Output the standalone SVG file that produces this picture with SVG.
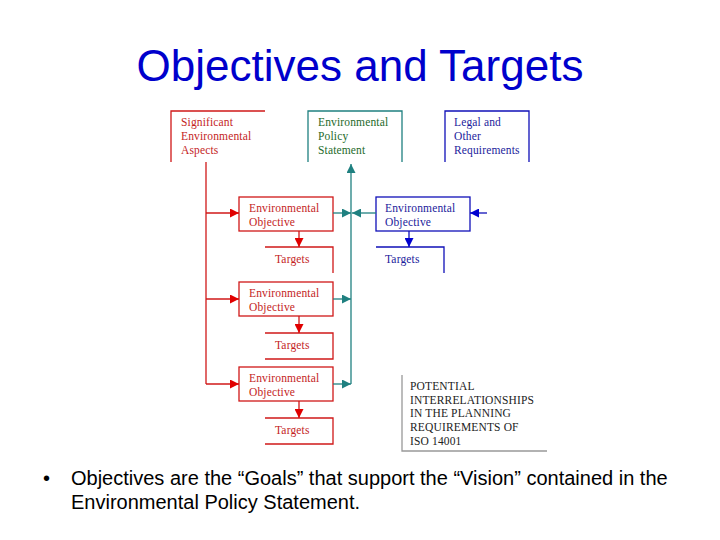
<svg xmlns="http://www.w3.org/2000/svg" width="720" height="540" viewBox="0 0 720 540">
<defs>
<style>
.t{font-family:"Liberation Serif","Times New Roman",serif;font-size:11.5px;letter-spacing:0.15px}
.red{fill:#c41e1e}
.blu{fill:#1c1c9c}
.grn{fill:#1e6a2a}
.blk{fill:#222}
.lr{stroke:#d01818;stroke-width:1.3;fill:none}
.lb{stroke:#1010b8;stroke-width:1.3;fill:none}
.lg{stroke:#1f8080;stroke-width:1.3;fill:none}
.lk{stroke:#999;stroke-width:1.3;fill:none}
.b{font-family:"Liberation Sans",Arial,sans-serif;font-size:20px;fill:#000}
</style>
<marker id="ar" viewBox="0 0 10 10" refX="10" refY="5" markerWidth="9" markerHeight="9" markerUnits="userSpaceOnUse" orient="auto"><path d="M0,0L10,5L0,10z" fill="#e00000"/></marker>
<marker id="ab" viewBox="0 0 10 10" refX="10" refY="5" markerWidth="9" markerHeight="9" markerUnits="userSpaceOnUse" orient="auto"><path d="M0,0L10,5L0,10z" fill="#0000d0"/></marker>
<marker id="ag" viewBox="0 0 10 10" refX="10" refY="5" markerWidth="9" markerHeight="9" markerUnits="userSpaceOnUse" orient="auto"><path d="M0,0L10,5L0,10z" fill="#1f8080"/></marker>
</defs>
<rect width="720" height="540" fill="#fff"/>
<text x="360" y="81" text-anchor="middle" font-family="Liberation Sans, Arial, sans-serif" font-size="44" fill="#0000cc">Objectives and Targets</text>

<g id="significant">
<path class="lr" d="M171,162V111H265"/>
<text class="t red" x="181" y="126">Significant</text>
<text class="t red" x="181" y="140">Environmental</text>
<text class="t red" x="181" y="154">Aspects</text>
</g>
<g id="policy">
<path class="lg" d="M308,162V111H402V162"/>
<text class="t grn" x="318" y="126">Environmental</text>
<text class="t grn" x="318" y="140">Policy</text>
<text class="t grn" x="318" y="154">Statement</text>
</g>
<g id="legal">
<path class="lb" d="M445,162V111H529V162"/>
<text class="t blu" x="454" y="126">Legal and</text>
<text class="t blu" x="454" y="140">Other</text>
<text class="t blu" x="454" y="154">Requirements</text>
</g>

<g id="obj1">
<rect class="lr" x="239" y="197" width="94" height="34"/>
<text class="t red" x="249" y="212">Environmental</text>
<text class="t red" x="249" y="226">Objective</text>
</g>
<g id="tgt1">
<path class="lr" d="M265,247H333V273"/>
<text class="t red" x="275" y="263">Targets</text>
</g>
<g id="obj2">
<rect class="lr" x="239" y="282" width="94" height="34"/>
<text class="t red" x="249" y="297">Environmental</text>
<text class="t red" x="249" y="311">Objective</text>
</g>
<g id="tgt2">
<path class="lr" d="M265,333H333V359H265"/>
<text class="t red" x="275" y="349">Targets</text>
</g>
<g id="obj3">
<rect class="lr" x="239" y="367" width="94" height="34"/>
<text class="t red" x="249" y="382">Environmental</text>
<text class="t red" x="249" y="396">Objective</text>
</g>
<g id="tgt3">
<path class="lr" d="M265,418H333V444H265"/>
<text class="t red" x="275" y="434">Targets</text>
</g>
<g id="objb">
<rect class="lb" x="376" y="197" width="94" height="34"/>
<text class="t blu" x="385" y="212">Environmental</text>
<text class="t blu" x="385" y="226">Objective</text>
</g>
<g id="tgtb">
<path class="lb" d="M376,247H444V273"/>
<text class="t blu" x="385" y="263">Targets</text>
</g>
<g id="note">
<path class="lk" d="M402,375V451H547"/>
<text class="t blk" x="410" y="390">POTENTIAL</text>
<text class="t blk" x="410" y="404">INTERRELATIONSHIPS</text>
<text class="t blk" x="410" y="417">IN THE PLANNING</text>
<text class="t blk" x="410" y="431">REQUIREMENTS OF</text>
<text class="t blk" x="410" y="445">ISO 14001</text>
</g>

<g id="connectors">
<path class="lr" d="M206,162V384"/>
<path class="lr" d="M206,213H239" marker-end="url(#ar)"/>
<path class="lr" d="M206,299H239" marker-end="url(#ar)"/>
<path class="lr" d="M206,384H239" marker-end="url(#ar)"/>
<path class="lr" d="M299,231V247" marker-end="url(#ar)"/>
<path class="lr" d="M299,316V333" marker-end="url(#ar)"/>
<path class="lr" d="M299,401V418" marker-end="url(#ar)"/>
<path class="lg" d="M351,384V164" marker-end="url(#ag)"/>
<path class="lg" d="M333,213H351" marker-end="url(#ag)"/>
<path class="lg" d="M333,299H351" marker-end="url(#ag)"/>
<path class="lg" d="M333,384H351" marker-end="url(#ag)"/>
<path class="lg" d="M376,213H352" marker-end="url(#ag)"/>
<path class="lb" d="M487,213H470" marker-end="url(#ab)"/>
<path class="lb" d="M409,231V247" marker-end="url(#ab)"/>
</g>

<text class="b" x="43" y="485">•</text>
<text class="b" x="71" y="485">Objectives are the “Goals” that support the “Vision” contained in the</text>
<text class="b" x="71" y="509">Environmental Policy Statement.</text>
</svg>
